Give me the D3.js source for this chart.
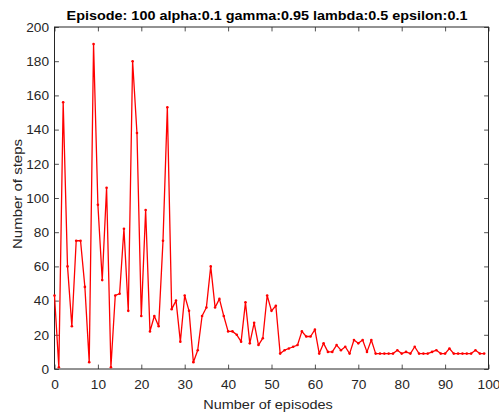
<!DOCTYPE html>
<html>
<head>
<meta charset="utf-8">
<script src="https://cdn.jsdelivr.net/npm/d3@7.9.0/dist/d3.min.js"></script>
<style>
  body { margin: 0; background: #fff; }
  svg { display: block; font-family: "Liberation Sans", Arial, Helvetica, sans-serif; }
</style>
</head>
<body>
<svg width="499" height="415"></svg>
<script>
// steps needed in each episode (episode index 0..99)
const steps = [
  43, 1, 156, 60, 25, 75, 75, 48, 4, 190,
  96, 52, 106, 1, 43, 44, 82, 34, 180, 138,
  31, 93, 22, 31, 25, 75, 153, 35, 40, 16,
  43, 34, 4, 11, 31, 36, 60, 36, 41, 31,
  22, 22, 20, 16, 39, 15, 27, 14, 18, 43,
  34, 37, 9, 11, 12, 13, 14, 22, 19, 19,
  23, 9, 15, 10, 10, 14, 11, 13, 9, 17,
  15, 17, 10, 17, 9, 9, 9, 9, 9, 11,
  9, 10, 9, 13, 9, 9, 9, 10, 11, 9,
  9, 12, 9, 9, 9, 9, 9, 11, 9, 9
];
const xTicks = [0, 10, 20, 30, 40, 50, 60, 70, 80, 90, 100];
const yTicks = [0, 20, 40, 60, 80, 100, 120, 140, 160, 180, 200];
const title = 'Episode: 100 alpha:0.1 gamma:0.95 lambda:0.5 epsilon:0.1';
const xLabel = 'Number of episodes';
const yLabel = 'Number of steps';

const W = 499, H = 415;
const margin = { top: 27, right: 10.5, bottom: 46, left: 54.5 };
const axisColor = '#262626';

const svg = d3.select('svg');

const x = d3.scaleLinear().domain([0, 100]).range([margin.left, W - margin.right]);
const y = d3.scaleLinear().domain([0, 200]).range([H - margin.bottom, margin.top]);

// the reference font is a bit wider than Liberation Sans
const sx = 1.14;

// axes (ticks pointing inward, matlab style)
const tk = 4.4;
const gB = svg.append('g').attr('transform', `translate(0,${y(0)})`)
  .call(d3.axisBottom(x).tickValues(xTicks).tickSizeInner(-tk).tickSizeOuter(0).tickPadding(0));
const gT = svg.append('g').attr('transform', `translate(0,${y(200)})`)
  .call(d3.axisTop(x).tickValues(xTicks).tickSizeInner(-tk).tickSizeOuter(0).tickFormat(''));
const gL = svg.append('g').attr('transform', `translate(${x(0)},0)`)
  .call(d3.axisLeft(y).tickValues(yTicks).tickSizeInner(-tk).tickSizeOuter(0).tickPadding(0));
const gR = svg.append('g').attr('transform', `translate(${x(100)},0)`)
  .call(d3.axisRight(y).tickValues(yTicks).tickSizeInner(-tk).tickSizeOuter(0).tickFormat(''));

[gB, gT, gL, gR].forEach(g => {
  g.select('.domain').remove();
  g.selectAll('line').attr('stroke', axisColor).attr('stroke-width', 0.8);
});

gB.selectAll('text')
  .attr('y', null).attr('dy', null)
  .attr('fill', axisColor)
  .style('font-size', '12px')
  .attr('transform', `translate(0,20) scale(${sx},1)`);
gL.selectAll('text')
  .attr('x', null).attr('dy', null)
  .attr('fill', axisColor)
  .attr('text-anchor', 'end')
  .style('font-size', '12px')
  .attr('transform', `translate(-5.5,4.3) scale(${sx},1)`);

svg.append('rect')
  .attr('x', x(0)).attr('y', y(200))
  .attr('width', x(100) - x(0)).attr('height', y(0) - y(200))
  .attr('fill', 'none').attr('stroke', axisColor).attr('stroke-width', 1);

// data line + point markers
const line = d3.line().x((d, i) => x(i)).y(d => y(d));
svg.append('path')
  .datum(steps)
  .attr('d', line)
  .attr('fill', 'none')
  .attr('stroke', '#ff0000')
  .attr('stroke-width', 1.3)
  .attr('stroke-linejoin', 'round');

svg.append('g').selectAll('circle')
  .data(steps)
  .join('circle')
  .attr('cx', (d, i) => x(i))
  .attr('cy', d => y(d))
  .attr('r', 1.3)
  .attr('fill', '#ff0000');

// labels
svg.append('text')
  .attr('transform', `translate(267,20) scale(1.2,1)`)
  .attr('text-anchor', 'middle')
  .attr('fill', '#000')
  .style('font-size', '12px')
  .style('font-weight', 'bold')
  .text(title);

svg.append('text')
  .attr('transform', `translate(268,409) scale(1.16,1)`)
  .attr('text-anchor', 'middle')
  .attr('fill', axisColor)
  .style('font-size', '12.5px')
  .text(xLabel);

svg.append('text')
  .attr('transform', `translate(21.5,194) rotate(-90) scale(1.2,1)`)
  .attr('text-anchor', 'middle')
  .attr('fill', axisColor)
  .style('font-size', '12.5px')
  .text(yLabel);
</script>
</body>
</html>
